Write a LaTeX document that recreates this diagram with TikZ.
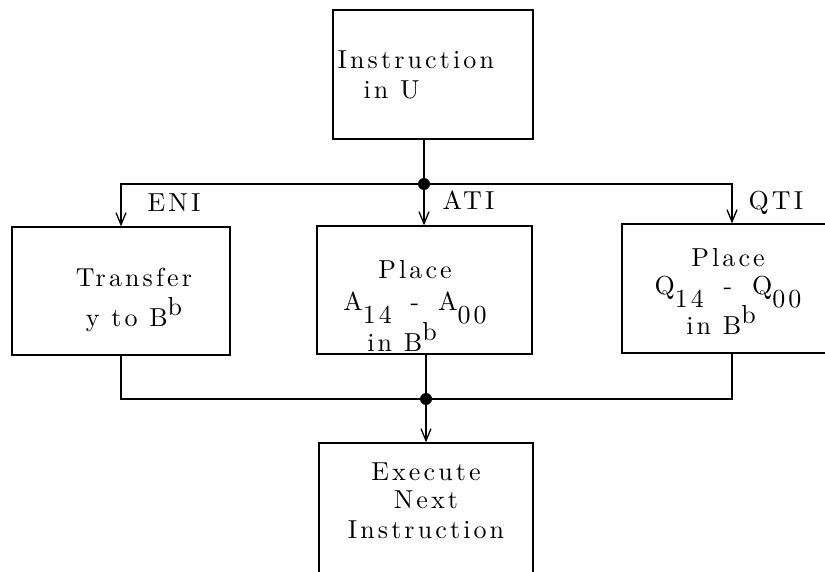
\documentclass[tikz,border=0pt]{standalone}
\usepackage{fontspec}
\usetikzlibrary{arrows.meta}
\newfontfamily\flowfont[Extension=.otf, LetterSpace=12]{lmroman10-regular}
\newcommand{\boxfont}{\flowfont\fontsize{26}{30}\selectfont}
\newcommand{\suptxt}[1]{\smash{\raisebox{11pt}{#1}}}
\newcommand{\subtxt}[1]{\smash{\raisebox{-13pt}{#1}}}
\tikzset{
  box/.style={draw, inner sep=0pt},
  txt/.style={font=\boxfont, align=center, inner sep=0pt, anchor=north},
  lbl/.style={font=\boxfont, inner sep=0pt, anchor=base west},
  dot/.style={circle, fill, inner sep=0pt, minimum size=12pt},
  flow/.style={-{Straight Barb[length=12pt,width=10pt]}}
}
\begin{document}
\begin{tikzpicture}[x=1pt, y=-1pt, line width=1.3pt]
  \useasboundingbox (0,0) rectangle (825,572);
  \clip (0,0) rectangle (825,572);
  % boxes
  \node[box, minimum width=200pt, minimum height=129pt] (instr) at (433,74.5) {};
  \node[box, minimum width=218pt, minimum height=128pt] (transfer) at (121,291) {};
  \node[box, minimum width=215pt, minimum height=128pt] (placea) at (424.5,290) {};
  \node[box, minimum width=220pt, minimum height=129pt] (placeq) at (732,288.5) {};
  \node[box, minimum width=214pt, minimum height=160pt] (execnext) at (426,523) {};
  % texts
  \node[txt, anchor=north west, align=left] (instr-t) at (337,50) {Instruction\\\hspace{26pt}in U};
  \node[txt] (transfer-t) at (134,268) {Transfer\\[10pt]y to B\suptxt{b}};
  \node[txt] (placea-t) at (415,260) {Place\\[2pt]A\subtxt{14}\hspace{7pt} - \hspace{7pt}A\subtxt{00}\\[11pt]in B\suptxt{b}\hspace*{26pt}};
  \node[txt] (placeq-t) at (728,248) {Place\\[-2pt]Q\subtxt{14}\hspace{8pt} - \hspace{8pt}Q\subtxt{00}\\[10pt]in B\suptxt{b}\hspace*{14pt}};
  \node[txt] (execnext-t) at (426,462) {Execute\\[-2pt]Next\\Instruction};
  % branch
  \coordinate (split) at (424,184);
  \coordinate (merge) at (426,399);
  \draw (split |- instr.south) -- (split);
  \draw[flow] (split) -| (transfer);
  \draw[flow] (split) -- (split |- placea.north);
  \draw[flow] (split) -| (placeq);
  \draw (transfer) |- (merge);
  \draw (placeq) |- (merge);
  \draw (placea.south -| merge) -- (merge);
  \draw[flow] (merge) -- (execnext);
  \node[dot] (splitdot) at (split) {};
  \node[dot] (mergedot) at (merge) {};
  % labels
  \node[lbl] (eni) at (147,212) {ENI};
  \node[lbl] (ati) at (442,210) {ATI};
  \node[lbl] (qti) at (748,210) {QTI};
\end{tikzpicture}
\end{document}
